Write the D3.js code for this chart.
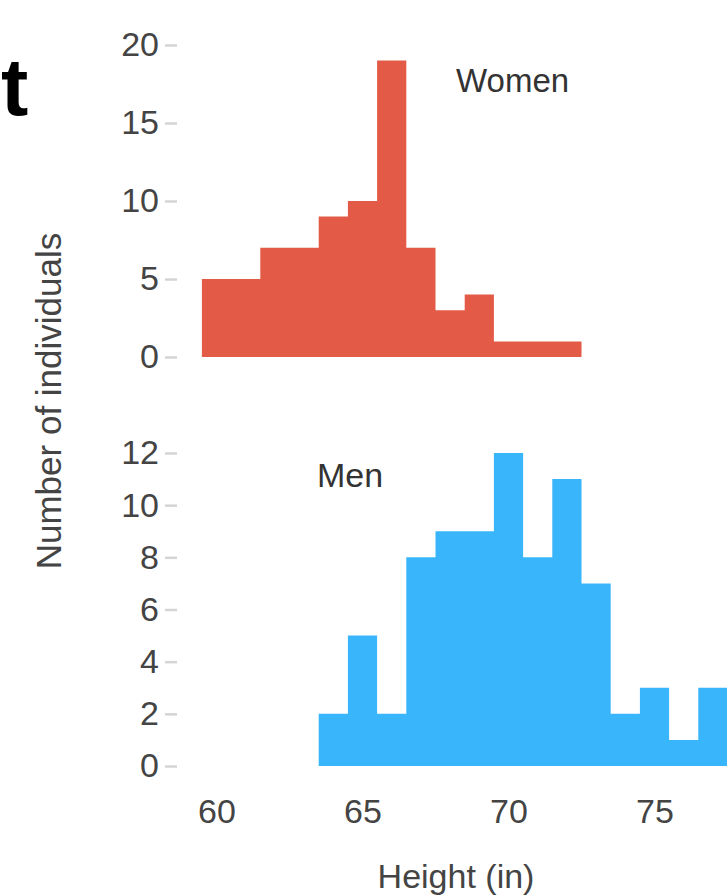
<!DOCTYPE html>
<html>
<head>
<meta charset="utf-8">
<script src="https://cdn.jsdelivr.net/npm/d3@7"></script>
<style>
  body { margin: 0; background: #fff; }
  svg { display: block; font-family: "Liberation Sans", Arial, sans-serif; }
  .axis text { fill: #444; font-size: 34px; }
  .axis line { stroke: #d4d4d4; stroke-width: 2.5px; }
</style>
</head>
<body>
<script>
// histogram bins are 1 inch wide, keyed by bin centre
var womenHeights = [60, 61, 62, 63, 64, 65, 66, 67, 68, 69, 70, 71, 72];
var womenCounts  = [5, 5, 7, 7, 9, 10, 19, 7, 3, 4, 1, 1, 1];

var menHeights = [64, 65, 66, 67, 68, 69, 70, 71, 72, 73, 74, 75, 76, 77];
var menCounts  = [2, 5, 2, 8, 9, 9, 12, 8, 11, 7, 2, 3, 1, 3];

var xTicks = [60, 65, 70, 75];
var womenTicks = [0, 5, 10, 15, 20];
var menTicks = [0, 2, 4, 6, 8, 10, 12];

var width = 727, height = 896;

var svg = d3.select("body").append("svg")
    .attr("width", width)
    .attr("height", height);

// shared x scale (inches)
var x = d3.scaleLinear()
    .domain([60, 75])
    .range([216.5, 654.5]);

var yWomen = d3.scaleLinear().domain([0, 20]).range([357, 45]);
var yMen = d3.scaleLinear().domain([0, 12]).range([766, 453]);

// one step-shaped area per histogram, so no seams between bins
function drawHist(heights, counts, y, color) {
  var pts = heights.map(function(h, i) { return { e: h - 0.5, n: counts[i] }; });
  pts.push({ e: heights[heights.length - 1] + 0.5, n: counts[counts.length - 1] });

  var area = d3.area()
      .curve(d3.curveStepAfter)
      .x(function(d) { return x(d.e); })
      .y0(y(0))
      .y1(function(d) { return y(d.n); });

  svg.append("path")
      .datum(pts)
      .attr("d", area)
      .attr("fill", color);
}

drawHist(womenHeights, womenCounts, yWomen, "#e35b46");
drawHist(menHeights, menCounts, yMen, "#39b6fb");

// y axes
function drawY(y, ticks) {
  var g = svg.append("g")
      .attr("class", "axis")
      .attr("transform", "translate(177,0)")
      .call(d3.axisLeft(y).tickValues(ticks).tickSize(12).tickPadding(6));
  g.select(".domain").remove();
}
drawY(yWomen, womenTicks);
drawY(yMen, menTicks);

// x axis, labels only
var gx = svg.append("g")
    .attr("class", "axis")
    .attr("transform", "translate(0,799)")
    .call(d3.axisBottom(x).tickValues(xTicks).tickSize(0).tickPadding(0));
gx.select(".domain").remove();

// titles
svg.append("text")
    .attr("x", 456)
    .attr("y", 92)
    .attr("font-size", 33)
    .attr("fill", "#333")
    .text("Women");

svg.append("text")
    .attr("x", 317)
    .attr("y", 487)
    .attr("font-size", 34)
    .attr("fill", "#333")
    .text("Men");

svg.append("text")
    .attr("x", 456)
    .attr("y", 888)
    .attr("text-anchor", "middle")
    .attr("font-size", 34)
    .attr("fill", "#444")
    .text("Height (in)");

svg.append("text")
    .attr("transform", "translate(61,401) rotate(-90)")
    .attr("text-anchor", "middle")
    .attr("font-size", 35)
    .attr("fill", "#444")
    .text("Number of individuals");

// letter left over from the neighbouring panel heading
svg.append("text")
    .attr("x", 1)
    .attr("y", 115)
    .attr("font-size", 82)
    .attr("font-weight", "bold")
    .attr("fill", "#000")
    .text("t");
</script>
</body>
</html>
